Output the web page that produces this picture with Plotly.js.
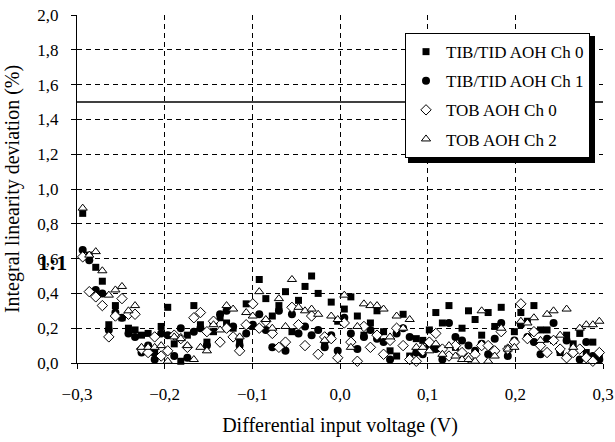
<!DOCTYPE html>
<html>
<head>
<meta charset="utf-8">
<script src="https://cdn.plot.ly/plotly-3.0.1.min.js"></script>
<style>html,body{margin:0;padding:0;background:#fff;}#chart{width:615px;height:442px;}</style>
</head>
<body>
<div id="chart"></div>
<script>
const voltage = [-0.2935,-0.2860,-0.2786,-0.2711,-0.2637,-0.2562,-0.2487,-0.2413,-0.2338,-0.2264,
-0.2189,-0.2114,-0.2040,-0.1965,-0.1891,-0.1816,-0.1741,-0.1667,-0.1592,-0.1518,
-0.1443,-0.1368,-0.1294,-0.1219,-0.1145,-0.1070,-0.0995,-0.0921,-0.0846,-0.0772,
-0.0697,-0.0622,-0.0548,-0.0473,-0.0399,-0.0324,-0.0249,-0.0175,-0.0100,-0.0026,
0.0049,0.0124,0.0198,0.0273,0.0347,0.0422,0.0497,0.0571,0.0646,0.0720,
0.0795,0.0870,0.0944,0.1019,0.1093,0.1168,0.1243,0.1317,0.1392,0.1466,
0.1541,0.1616,0.1690,0.1765,0.1839,0.1914,0.1989,0.2063,0.2138,0.2212,
0.2287,0.2362,0.2436,0.2511,0.2585,0.2660,0.2735,0.2809,0.2884,0.2958];

const tibCh0 = [0.86,0.62,0.55,0.47,0.22,0.33,0.26,0.20,0.19,0.16,
0.17,0.06,0.21,0.32,0.11,0.01,0.16,0.33,0.22,0.12,
0.18,0.26,0.23,0.20,0.13,0.34,0.21,0.48,0.37,0.27,
0.33,0.41,0.18,0.36,0.44,0.50,0.40,0.10,0.35,0.24,
0.31,0.38,0.27,0.16,0.23,0.30,0.18,0.07,0.04,0.28,
0.04,0.14,0.13,0.19,0.29,0.23,0.33,0.09,0.20,0.30,
0.25,0.16,0.29,0.21,0.32,0.08,0.18,0.29,0.24,0.33,
0.19,0.19,0.13,0.06,0.16,0.11,0.17,0.06,0.12,0.04];

const tibCh1 = [0.65,0.59,0.42,0.40,0.19,0.29,0.26,0.17,0.15,0.06,
0.10,0.02,0.17,0.16,0.04,0.20,0.03,0.18,0.20,0.10,
0.23,0.28,0.30,0.21,0.10,0.17,0.22,0.28,0.19,0.09,
0.30,0.07,0.28,0.17,0.21,0.16,0.19,0.09,0.16,0.07,
0.26,0.17,0.08,0.15,0.19,0.14,0.12,0.02,0.17,0.20,
0.15,0.06,0.05,0.10,0.08,0.02,0.23,0.15,0.13,0.10,
0.07,0.11,0.05,0.14,0.23,0.04,0.13,0.22,0.15,0.12,
0.05,0.14,0.23,0.07,0.13,0.07,0.02,0.12,0.04,0.02];

const tobCh0 = [0.61,0.41,0.38,0.33,0.15,0.27,0.37,0.28,0.28,0.08,
0.06,0.15,0.04,0.07,0.16,0.14,0.09,0.26,0.29,0.18,
0.24,0.12,0.20,0.15,0.07,0.22,0.34,0.20,0.24,0.17,
0.09,0.12,0.32,0.22,0.10,0.27,0.05,0.15,0.14,0.03,
0.23,0.12,0.01,0.21,0.09,0.16,0.05,0.13,0.20,0.10,
0.02,0.01,0.07,0.12,0.17,0.08,0.04,0.10,0.06,0.03,
0.05,0.10,0.10,0.07,0.18,0.08,0.12,0.34,0.14,0.18,
0.10,0.06,0.13,0.08,0.03,0.06,0.08,0.03,0.01,0.06];

const tobCh2 = [0.89,0.62,0.64,0.53,0.39,0.42,0.44,0.30,0.33,0.09,
0.09,0.09,0.10,0.01,0.15,0.14,0.10,0.02,0.09,0.07,
0.22,0.19,0.33,0.31,0.15,0.29,0.27,0.41,0.25,0.20,
0.37,0.21,0.48,0.32,0.30,0.31,0.28,0.13,0.27,0.25,
0.39,0.09,0.21,0.34,0.33,0.33,0.31,0.15,0.27,0.20,
0.25,0.09,0.09,0.07,0.11,0.05,0.10,0.04,0.02,0.02,
0.01,0.30,0.01,0.04,0.20,0.08,0.09,0.24,0.23,0.26,
0.13,0.28,0.30,0.16,0.31,0.09,0.20,0.22,0.22,0.24];

const seriesNames = ["TIB/TID AOH Ch 0","TIB/TID AOH Ch 1","TOB AOH Ch 0","TOB AOH Ch 2"];
const limitLine = 1.5;
const xTicks = [-0.3,-0.2,-0.1,0.0,0.1,0.2,0.3];
const yTicks = [0.0,0.2,0.4,0.6,0.8,1.0,1.2,1.4,1.6,1.8,2.0];

const serif = "Liberation Serif";
const styles = [
  {symbol:"square", size:7, color:"#000", line:{color:"#000", width:0}},
  {symbol:"circle", size:8, color:"#000", line:{color:"#000", width:0}},
  {symbol:"diamond", size:8, color:"#fff", line:{color:"#000", width:1}},
  {symbol:"triangle-up", size:8, color:"#fff", line:{color:"#000", width:1}}
];
const ys = [tibCh0, tibCh1, tobCh0, tobCh2];
const traces = ys.map((y, k) => ({
  type:"scatter", mode:"markers", x:voltage, y:y, name:seriesNames[k],
  legendgroup:"g"+k, marker:styles[k], cliponaxis:false
}));

const layout = {
  width:615, height:442,
  margin:{l:77, r:12, t:15, b:79},
  paper_bgcolor:"#fff", plot_bgcolor:"#fff",
  separators:", ",
  font:{family:serif, size:17, color:"#000"},
  showlegend:true,
  legend:{x:0.6236, y:0.948, xanchor:"left", yanchor:"top",
    bgcolor:"#fff", bordercolor:"#000", borderwidth:1, itemwidth:30,
    font:{family:serif, size:17, color:"#000"}, tracegroupgap:4, traceorder:"grouped"},
  xaxis:{range:[-0.3,0.3], tickvals:xTicks, tickformat:".1f",
    showgrid:true, gridcolor:"#000", gridwidth:1, griddash:"5px,4px",
    zeroline:false, showline:true, linecolor:"#000", linewidth:1,
    ticks:"outside", ticklen:5, tickcolor:"#000", ticklabelstandoff:11,
    tickfont:{family:serif, size:17, color:"#000"},
    title:{text:"Differential input voltage (V)", font:{family:serif, size:20, color:"#000"}, standoff:14}},
  yaxis:{range:[0,2.0], tickvals:yTicks, tickformat:".1f",
    showgrid:true, gridcolor:"#000", gridwidth:1, griddash:"5px,4px",
    zeroline:false, showline:true, linecolor:"#000", linewidth:1,
    ticks:"outside", ticklen:5, tickcolor:"#000", ticklabelstandoff:9,
    tickfont:{family:serif, size:17, color:"#000"},
    title:{text:"Integral linearity deviation (%)", font:{family:serif, size:20, color:"#000"}, standoff:12}},
  shapes:[
    {type:"line", xref:"paper", yref:"y", x0:0, x1:1, y0:limitLine, y1:limitLine, line:{color:"#000", width:1.3}},
    {type:"rect", xref:"paper", yref:"paper", x0:0.6293, x1:0.9848, y0:0.5747, y1:0.9397, layer:"above",
     fillcolor:"#000", line:{width:0}}
  ],
  annotations:[
    {text:"<b>1:1</b>", xref:"paper", yref:"paper", x:-0.046, y:0.29, showarrow:false,
     font:{family:serif, size:22, color:"#000"}, xanchor:"center", yanchor:"middle"}
  ]
};
Plotly.newPlot("chart", traces, layout, {displayModeBar:false, staticPlot:true});
</script>
</body>
</html>
